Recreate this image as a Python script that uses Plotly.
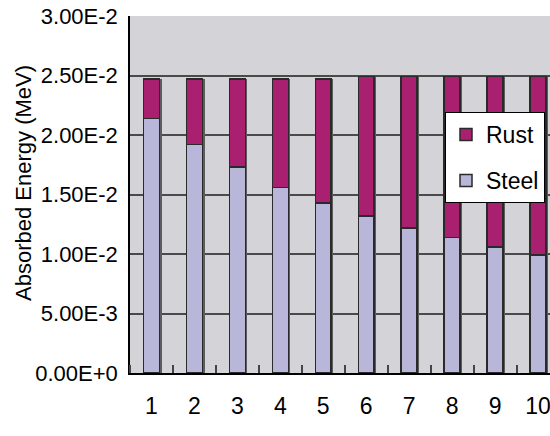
import plotly.graph_objects as go

# Depth positions along the sample
positions = [1, 2, 3, 4, 5, 6, 7, 8, 9, 10]

# Absorbed energy per layer (MeV)
steel = [0.0214, 0.0192, 0.0173, 0.0156, 0.0143, 0.0132, 0.0122, 0.0114, 0.0106, 0.0099]
rust = [0.0033, 0.0055, 0.0074, 0.0091, 0.0104, 0.0117, 0.0127, 0.0135, 0.0143, 0.0150]

y_tick_vals = [0, 0.005, 0.010, 0.015, 0.020, 0.025, 0.030]
y_tick_text = ["0.00E+0", "5.00E-3", "1.00E-2", "1.50E-2", "2.00E-2", "2.50E-2", "3.00E-2"]

FONT = "Liberation Sans, Arial, sans-serif"
outline = dict(color="#2a2a2a", width=1.5)
BAR_W = 0.37
X_RANGE = [0.5, 10.28]
SHIFT = 0.05  # drop-shadow offset in category units

fig = go.Figure()

# drop shadows (base axis, drawn beneath the bars)
for vals in (steel, rust):
    fig.add_trace(go.Bar(
        x=positions, y=vals, width=BAR_W, xaxis="x", yaxis="y",
        marker=dict(color="#5c5c5c", line=dict(width=0)),
        showlegend=False, hoverinfo="skip",
    ))

# main stacked bars on the overlay axis
fig.add_trace(go.Bar(
    x=positions, y=steel, name="Steel", width=BAR_W, xaxis="x2", yaxis="y",
    marker=dict(color="#b9b7d9", line=outline),
    legendgroup="steel", legendrank=2,
))
fig.add_trace(go.Bar(
    x=positions, y=rust, name="Rust", width=BAR_W, xaxis="x2", yaxis="y",
    marker=dict(color="#a92071", line=outline),
    legendgroup="rust", legendrank=1,
))

# vertical axis title
fig.add_annotation(
    text="Absorbed Energy (MeV)", textangle=-90,
    xref="paper", yref="paper", x=-0.255, y=0.532,
    xanchor="center", yanchor="middle", showarrow=False,
    font=dict(size=22, family=FONT, color="black"),
)

fig.update_layout(
    width=550, height=436,
    margin=dict(l=130, r=0, t=16, b=63),
    barmode="stack",
    paper_bgcolor="white",
    plot_bgcolor="#d4d4d8",
    font=dict(family=FONT, color="black"),
    showlegend=True,
    legend=dict(
        x=0.75, y=0.731, xanchor="left", yanchor="top",
        bgcolor="white", bordercolor="black", borderwidth=1,
        font=dict(size=23, family=FONT),
        traceorder="grouped", tracegroupgap=13,
    ),
    xaxis=dict(
        range=[X_RANGE[0] - SHIFT, X_RANGE[1] - SHIFT],
        visible=False, showgrid=False, zeroline=False,
    ),
    xaxis2=dict(
        range=X_RANGE, overlaying="x", side="bottom",
        tickmode="array", tickvals=positions,
        ticktext=[str(p) for p in positions],
        ticks="", showgrid=False, zeroline=False,
        showline=True, linecolor="black", linewidth=1.5,
        tickfont=dict(size=23), ticklabelstandoff=12,
        ticklabeloverflow="allow",
        minor=dict(tick0=0.5, dtick=1, ticks="inside", ticklen=8,
                   tickcolor="#444", tickwidth=1.5, showgrid=False),
    ),
    yaxis=dict(
        range=[0, 0.030],
        tickmode="array", tickvals=y_tick_vals, ticktext=y_tick_text,
        ticks="", showgrid=True, gridcolor="#4a4a4a", gridwidth=1.5,
        zeroline=False, showline=True, linecolor="black", linewidth=1.5,
        tickfont=dict(size=22), ticklabelstandoff=6,
    ),
)

fig.write_html("out.html")
